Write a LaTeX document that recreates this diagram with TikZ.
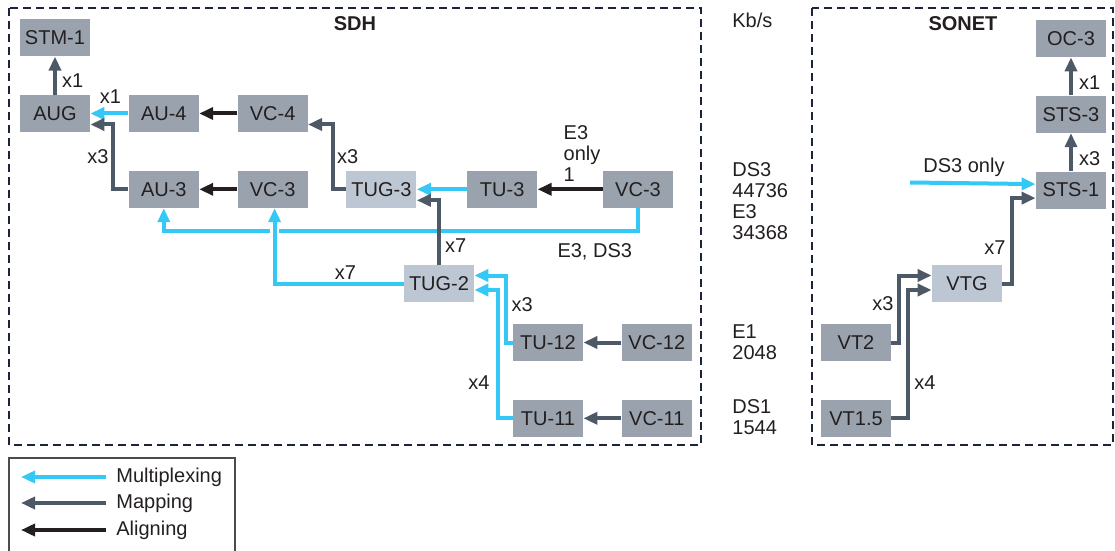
\documentclass[tikz,border=0pt]{standalone}
\usepackage{fontspec}
\setmainfont{Liberation Sans}
\usetikzlibrary{arrows.meta,positioning}
\definecolor{boxgray}{RGB}{154,163,173}
\definecolor{boxlight}{RGB}{189,199,211}
\definecolor{muxcyan}{RGB}{51,200,245}
\definecolor{mapgray}{RGB}{78,89,104}
\definecolor{alnblack}{RGB}{35,31,32}
\definecolor{framenavy}{RGB}{28,36,60}

\begin{document}
\begin{tikzpicture}[
  x=0.5pt, y=-0.5pt,
  node distance=19pt and 19pt,
  every node/.style={font=\fontsize{10}{10.5}\selectfont,text=alnblack},
  box/.style={fill=boxgray,minimum width=35pt,minimum height=18.5pt,inner sep=0pt},
  lightbox/.style={box,fill=boxlight},
  lbl/.style={inner sep=1pt},
  title/.style={lbl,font=\fontsize{10}{12}\selectfont\bfseries},
  arrbase/.style={line width=2pt,-{Triangle[length=7pt,width=6pt]}},
  muxarr/.style={arrbase,draw=muxcyan},
  maparr/.style={arrbase,draw=mapgray},
  alnarr/.style={arrbase,draw=alnblack},
  frame/.style={draw=framenavy,line width=1pt,dash pattern=on 4pt off 2.5pt}
]
\useasboundingbox (0,0) rectangle (1115,551);

% frames
\draw[frame] (9,8) rectangle (701,445);
\draw[frame] (812,8) rectangle (1113,445);
\node[title] (sdh) at (355,24) {SDH};
\node[title] (sonet) at (963,24) {SONET};

% SDH
\node[box] (aug) at (55,113.5) {AUG};
\node[box,above=of aug] (stm) {STM-1};
\node[box,right=of aug] (aufour) {AU-4};
\node[box,right=of aufour] (vcfour) {VC-4};
\node[box,below=of aufour] (authree) {AU-3};
\node[box,right=of authree] (vcthree) {VC-3};
\node[lightbox,right=of vcthree] (tugthree) {TUG-3};
\node[box,right=25pt of tugthree] (tuthree) {TU-3};
\node[box,right=32.5pt of tuthree] (vcthreein) {VC-3};
\node[lightbox] (tugtwo) at (439,283.5) {TUG-2};
\node[box] (tutwelve) at (548,342.5) {TU-12};
\node[box,right=of tutwelve] (vctwelve) {VC-12};
\node[box,below=of tutwelve] (tueleven) {TU-11};
\node[box,right=of tueleven] (vceleven) {VC-11};

% SONET
\node[box] (oc) at (1071,38.5) {OC-3};
\node[box,below=of oc] (ststhree) {STS-3};
\node[box,below=of ststhree] (stsone) {STS-1};
\node[lightbox] (vtg) at (967,283.5) {VTG};
\node[box] (vttwo) at (856,342.5) {VT2};
\node[box,below=of vttwo] (vtonefive) {VT1.5};
\coordinate (dsthreein) at (910,182.5);

% rates
\node[lbl,anchor=west] (kbs) at (730,20) {Kb/s};
\node[lbl,anchor=west,align=left] (ratethree) at (730,201.5) {DS3\\44736\\E3\\34368};
\node[lbl,anchor=west,align=left] (rateeone) at (730,342.5) {E1\\2048};
\node[lbl,anchor=west,align=left] (ratedsone) at (730,417.5) {DS1\\1544};

% SDH connectors
\draw[maparr] (aug) -- node[lbl,right=1.5pt,pos=0.37] (lstm) {x1} (stm);
\draw[muxarr] (aufour) -- node[lbl,above=3pt,pos=0.47] (laug) {x1} (aug);
\draw[alnarr] (vcfour) -- (aufour);
\draw[maparr] (authree.west) -- ++(-15,0) |- node[lbl,left=0.5pt,pos=0.25] (lauthree) {x3} ([yshift=-5.5pt]aug.east);
\draw[alnarr] (vcthree) -- (authree);
\draw[maparr] (tugthree.west) -- ++(-13,0) |- node[lbl,right,pos=0.25] (ltugthree) {x3} ([yshift=-5.5pt]vcfour.east);
\draw[muxarr] (tuthree) -- (tugthree);
\draw[alnarr] (vcthreein) -- node[lbl,anchor=south west,align=left,pos=0.66,yshift=2pt] (lonly) {E3\\only\\1} (tuthree);
\draw[muxarr] (vcthreein.south) -- ++(0,23) -| node[lbl,anchor=north east,pos=0,xshift=-1pt,yshift=-4pt] (lethree) {E3, DS3} (authree.south);
\draw[muxarr,preaction={draw=white,line width=4.2pt,-}] (tugtwo.west) -| node[lbl,above,pos=0.225] (ltugtwo) {x7} ([xshift=1pt]vcthree.south);
\draw[maparr] (tugtwo.north) |- node[lbl,right=1pt,pos=0.15] (lsevenup) {x7} ([yshift=-5.5pt]tugthree.east);
\draw[muxarr] (tutwelve.west) -- ++(-7,0) |- node[lbl,right=1pt,pos=0.28] (ltutwelve) {x3} ([yshift=4pt]tugtwo.east);
\draw[muxarr] (tueleven.west) -- ++(-15,0) |- node[lbl,left=2pt,pos=0.14] (ltueleven) {x4} ([yshift=-3.25pt]tugtwo.east);
\draw[maparr] (vctwelve) -- (tutwelve);
\draw[maparr] (vceleven) -- (tueleven);

% SONET connectors
\draw[maparr] (ststhree) -- node[lbl,right=2pt,pos=0.33] (loc) {x1} (oc);
\draw[maparr] (stsone) -- node[lbl,right=2pt,pos=0.32] (lststhree) {x3} (ststhree);
\draw[muxarr] (dsthreein) -- node[lbl,above=1.5pt,pos=0.43] (ldsthree) {DS3 only} ([yshift=3pt]stsone.west);
\draw[maparr] (vtg.east) -- ++(10,0) |- node[lbl,left=1.5pt,pos=0.21] (lvtg) {x7} ([yshift=-4pt]stsone.west);
\draw[maparr] (vttwo.east) -- ++(8,0) |- node[lbl,left=1pt,pos=0.29] (lvttwo) {x3} ([yshift=4pt]vtg.west);
\draw[maparr] (vtonefive.east) -- ++(17,0) |- node[lbl,right=1pt,pos=0.14] (lvtonefive) {x4} ([yshift=-3.25pt]vtg.west);

% legend
\draw[draw=black!70,line width=0.6pt] (9,560) -- (9,458) -- (235,458) -- (235,560);
\coordinate (lgtip) at (21,0);
\node[lbl,anchor=west] (lgmux) at (114,477) {Multiplexing};
\node[lbl,anchor=west] (lgmap) at (114,503) {Mapping};
\node[lbl,anchor=west] (lgaln) at (114,530) {Aligning};
\draw[muxarr] ([xshift=-4pt]lgmux.west) -- (lgtip |- lgmux.west);
\draw[maparr] ([xshift=-4pt]lgmap.west) -- (lgtip |- lgmap.west);
\draw[alnarr] ([xshift=-4pt]lgaln.west) -- (lgtip |- lgaln.west);
\end{tikzpicture}
\end{document}
